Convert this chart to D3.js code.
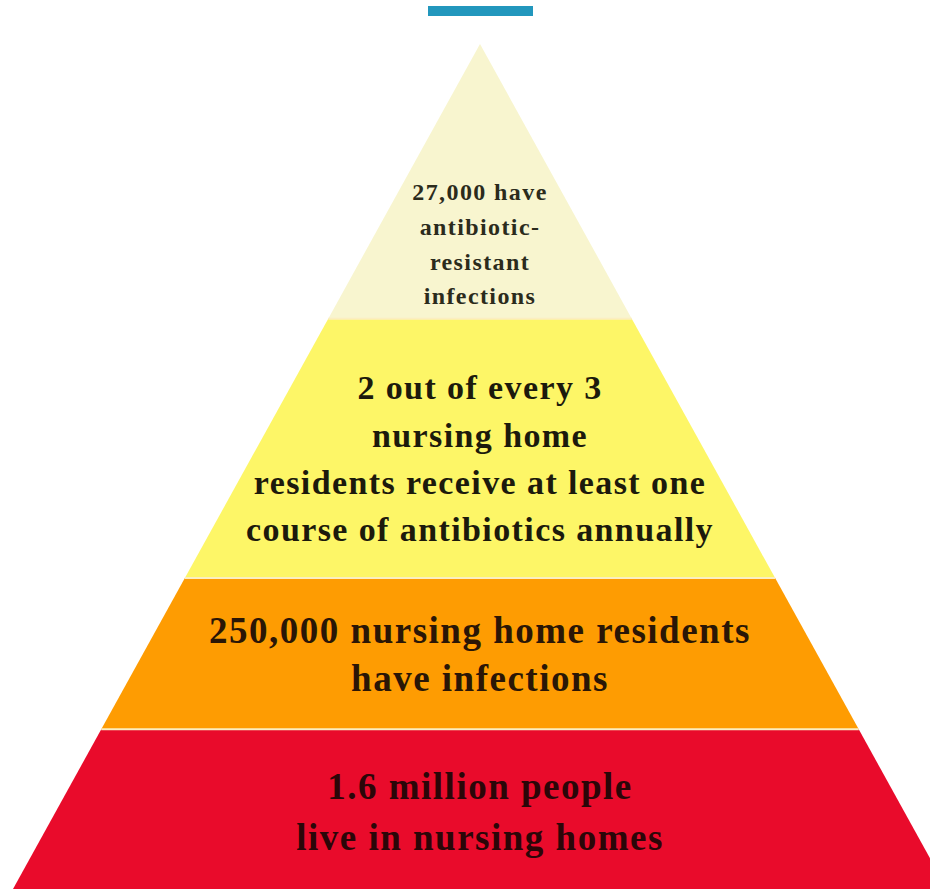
<!DOCTYPE html>
<html>
<head>
<meta charset="utf-8">
<script src="https://cdn.jsdelivr.net/npm/d3@7"></script>
<style>
  html, body { margin: 0; padding: 0; background: #fff; }
  svg { display: block; }
</style>
</head>
<body>
<svg id="chart" width="930" height="889"></svg>
<script>
// levels from top to bottom
const levels = ['resistant', 'antibiotics', 'infections', 'residents'];
const levelLines = [
    ['27,000 have', 'antibiotic-', 'resistant', 'infections'],
    ['2 out of every 3', 'nursing home', 'residents receive at least one', 'course of antibiotics annually'],
    ['250,000 nursing home residents', 'have infections'],
    ['1.6 million people', 'live in nursing homes']
];
const levelColors = ['#f8f5cf', '#fdf667', '#fe9c02', '#e90b2b'];
const textColors = ['#2b2b1c', '#1c1a0c', '#2a1606', '#2b0608'];

const svg = d3.select('#chart');

// pyramid geometry
const apex = { x: 480, y: 44 };
const baseY = 889;
const halfBase = 467; // half width at base

// cumulative band breaks, as fraction of pyramid height
const breaks = [0, 0.325, 0.632, 0.811, 1];
const fontSizes = [24, 34, 37, 37];
const spacing = [1.4, 1.4, 1.5, 1.5];
const lineGaps = [34.7, 47.3, 48, 51];
const textShift = [62.5, 10, 0, 2];

const y = d3.scaleLinear().domain([0, 1]).range([apex.y, baseY]);
const half = d3.scaleLinear().domain([apex.y, baseY]).range([0, halfBase]);

// top marker bar
svg.append('rect')
    .attr('x', 428).attr('y', 6)
    .attr('width', 105).attr('height', 10)
    .attr('fill', '#2297bd');

const bands = svg.append('g');

levels.forEach((lev, i) => {
    const y0 = y(breaks[i]), y1 = y(breaks[i + 1]);
    const h0 = half(y0), h1 = half(y1);
    const pts = [
        [apex.x - h0, y0], [apex.x + h0, y0],
        [apex.x + h1, y1], [apex.x - h1, y1]
    ];
    bands.append('path')
        .attr('d', d3.line()(pts) + 'Z')
        .attr('fill', levelColors[i]);

    // thin light separator
    if (i > 0) {
        bands.append('line')
            .attr('x1', apex.x - h0).attr('x2', apex.x + h0)
            .attr('y1', y0).attr('y2', y0)
            .attr('stroke', '#fbeec0')
            .attr('stroke-width', 2);
    }

    const lines = levelLines[i];
    const cy = (y0 + y1) / 2 + textShift[i];
    const gap = lineGaps[i];
    const startY = cy - gap * (lines.length - 1) / 2;
    bands.append('g')
        .selectAll('text')
        .data(lines)
        .join('text')
        .attr('x', apex.x)
        .attr('y', (d, k) => startY + k * gap)
        .attr('dy', '0.35em')
        .attr('text-anchor', 'middle')
        .attr('font-family', '"Liberation Serif", "DejaVu Serif", serif')
        .attr('font-weight', 'bold')
        .attr('font-size', fontSizes[i])
        .attr('letter-spacing', spacing[i])
        .attr('fill', textColors[i])
        .text(d => d);
});
</script>
</body>
</html>
